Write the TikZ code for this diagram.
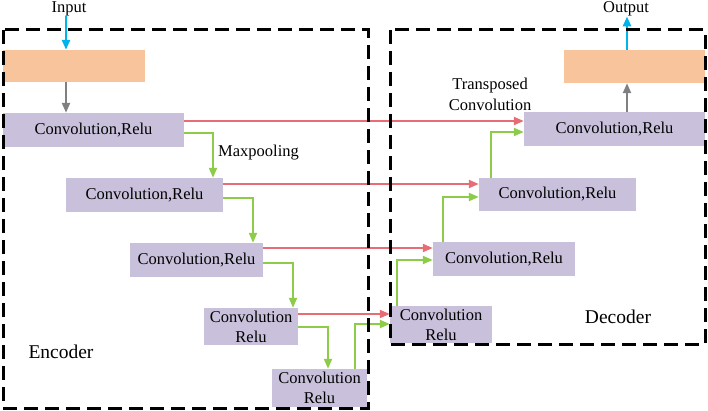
\documentclass[tikz,border=0pt]{standalone}
\usepackage{fontspec}
\setmainfont{Liberation Serif}
\usetikzlibrary{arrows.meta}
\definecolor{boxpurple}{RGB}{201,192,219}
\definecolor{boxorange}{RGB}{248,196,156}
\definecolor{linered}{RGB}{232,108,116}
\definecolor{linegreen}{RGB}{140,204,72}
\definecolor{linecyan}{RGB}{0,180,235}
\definecolor{linegray}{RGB}{128,128,128}
\tikzset{
  convbox/.style={fill=boxpurple, inner sep=0pt, align=center, font=\fontsize{16.5}{20}\selectfont},
  orangebox/.style={fill=boxorange, inner sep=0pt},
  lbl/.style={inner sep=0pt, align=center, font=\fontsize{16.5}{21}\selectfont},
  biglbl/.style={inner sep=0pt, font=\fontsize{19.5}{22}\selectfont},
  tip/.style={-{Triangle[length=10pt,width=8pt]}},
  redarrow/.style={tip, draw=linered, line width=2pt},
  greenarrow/.style={tip, draw=linegreen, line width=2pt},
  grayarrow/.style={tip, draw=linegray, line width=2.2pt},
  cyanarrow/.style={tip, draw=linecyan, line width=2.5pt},
  dashbox/.style={draw=black, line width=3pt, dash pattern=on 14pt off 7pt}
}
\begin{document}
\begin{tikzpicture}[x=1pt,y=-1pt]
\useasboundingbox (0,0) rectangle (708,411);
% encoder
\node[orangebox, minimum width=142pt, minimum height=32pt] (inbox) at (74,66) {};
\node[convbox, minimum width=181pt, minimum height=34pt] (C1) at (93.5,130) {Convolution,Relu};
\node[convbox, minimum width=157pt, minimum height=34pt] (C2) at (144.5,195) {Convolution,Relu};
\node[convbox, minimum width=133pt, minimum height=34pt] (C3) at (196.5,260) {Convolution,Relu};
\node[convbox, minimum width=94pt, minimum height=37pt] (C4) at (251,326.5) {Convolution\\Relu};
\node[convbox, minimum width=95pt, minimum height=38pt] (C5) at (319.5,388) {Convolution\\Relu};
% decoder
\node[convbox, minimum width=102pt, minimum height=37pt] (D4) at (441,324.5) {Convolution\\Relu};
\node[convbox, minimum width=142pt, minimum height=34pt] (D3) at (504,259) {Convolution,Relu};
\node[convbox, minimum width=157pt, minimum height=33pt] (D2) at (557.5,194.5) {Convolution,Relu};
\node[convbox, minimum width=181pt, minimum height=34pt] (D1) at (614.5,129) {Convolution,Relu};
\node[orangebox, minimum width=141pt, minimum height=33pt] (outbox) at (634.5,66.5) {};
% labels
\node[lbl] (inlbl) at (69,9) {Input};
\node[lbl] (outlbl) at (626,9) {Output};
\node[lbl, anchor=west] (maxlbl) at (218,153) {Maxpooling};
\node[lbl] (tclbl) at (490,94.5) {Transposed\\Convolution};
\node[biglbl] (enclbl) at (61,352) {Encoder};
\node[biglbl] (declbl) at (618,317) {Decoder};
% input / output arrows
\draw[cyanarrow] (inlbl.south -| 66,0) -- (inbox.north -| 66,0);
\draw[grayarrow] (inbox.south -| 66,0) -- (C1.north -| 66,0);
\draw[grayarrow] (D1.north -| 627,0) -- (outbox.south -| 627,0);
\draw[cyanarrow] (outbox.north -| 627,0) -- (outlbl.south -| 627,0);
% skip connections
\draw[redarrow] (C1.east |- 0,121) -- (D1.west |- 0,121);
\draw[redarrow] (C2.east |- 0,184) -- (D2.west |- 0,184);
\draw[redarrow] (C3.east |- 0,248) -- (D3.west |- 0,248);
\draw[redarrow] (C4.east |- 0,314) -- (D4.west |- 0,314);
% down path
\draw[greenarrow] (C1.east |- 0,133) -| (C2.north -| 213,0);
\draw[greenarrow] (C2.east |- 0,198) -| (C3.north -| 253,0);
\draw[greenarrow] (C3.east |- 0,263) -| (C4.north -| 293,0);
\draw[greenarrow] (C4.east |- 0,327) -| (C5.north -| 328,0);
% up path
\draw[greenarrow] (C5.north -| 355,0) |- (D4.west |- 0,324);
\draw[greenarrow] (D4.north -| 397,0) |- (D3.west |- 0,260);
\draw[greenarrow] (D3.north -| 443,0) |- (D2.west |- 0,197);
\draw[greenarrow] (D2.north -| 491,0) |- (D1.west |- 0,132);
% dashed frames
\draw[dashbox] (3,30) rectangle (368,408);
\draw[dashbox] (390,30) rectangle (705,344);
\end{tikzpicture}
\end{document}
